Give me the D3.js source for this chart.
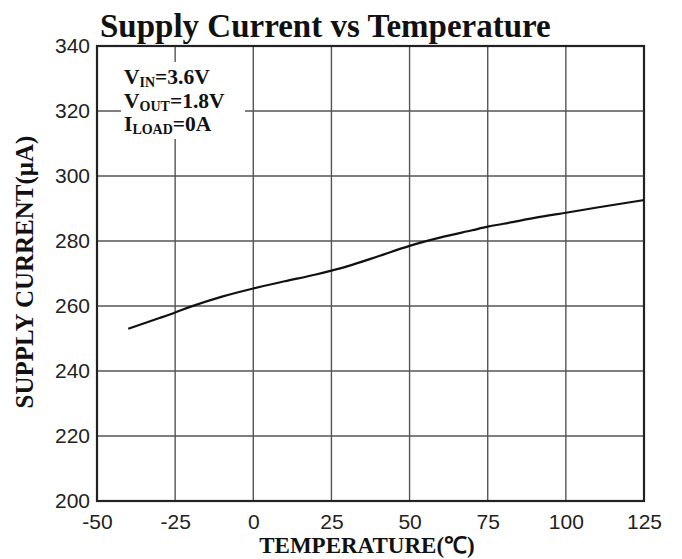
<!DOCTYPE html>
<html><head><meta charset="utf-8">
<script src="https://cdn.jsdelivr.net/npm/d3@7"></script>
<style>body{margin:0;background:#fff}svg{display:block}</style>
</head><body>
<script>
const temps = [-40,-30,-25,-20,-10,0,10,20,25,30,40,50,60,70,75,80,90,100,110,125];
const current = [253,256.3,258,259.8,262.9,265.4,267.6,269.7,270.9,272.2,275.3,278.5,281.1,283.3,284.4,285.3,287.1,288.7,290.3,292.6];
const xTicks = [-50,-25,0,25,50,75,100,125];
const yTicks = [200,220,240,260,280,300,320,340];

const W=682,H=559;
const m={l:97,r:38,t:46,b:58};
const svg=d3.select("body").append("svg").attr("width",W).attr("height",H);
const x=d3.scaleLinear().domain([-50,125]).range([m.l,W-m.r]);
const y=d3.scaleLinear().domain([200,340]).range([H-m.b,m.t]);
const serif="Liberation Serif, Times New Roman, serif";
const sans="Liberation Sans, Arial, sans-serif";

const g=svg.append("g");
g.selectAll(".vg").data(xTicks).join("line")
 .attr("x1",d=>x(d)).attr("x2",d=>x(d)).attr("y1",y(200)).attr("y2",y(340))
 .attr("stroke","#555").attr("stroke-width",1.4);
g.selectAll(".hg").data(yTicks).join("line")
 .attr("y1",d=>y(d)).attr("y2",d=>y(d)).attr("x1",x(-50)).attr("x2",x(125))
 .attr("stroke","#555").attr("stroke-width",1.4);

// annotation with white background
const ann=svg.append("g").attr("font-family",serif).attr("font-weight","bold").attr("fill","#111");
ann.append("rect").attr("x",x(-50)+24).attr("y",62).attr("width",124).attr("height",77).attr("fill","#fff");
function annLine(yy,main,sub,rest){
  const t=ann.append("text").attr("x",x(-50)+27).attr("y",yy).attr("font-size",21.5);
  t.append("tspan").text(main);
  t.append("tspan").attr("font-size",14).attr("dy",3).text(sub);
  t.append("tspan").attr("dy",-3).text(rest);
}
annLine(84,"V","IN","=3.6V");
annLine(108,"V","OUT","=1.8V");
annLine(131,"I","LOAD","=0A");

svg.append("rect").attr("x",x(-50)).attr("y",y(340)).attr("width",x(125)-x(-50)).attr("height",y(200)-y(340))
 .attr("fill","none").attr("stroke","#222").attr("stroke-width",2.2);

svg.append("path").datum(temps.map((t,i)=>[t,current[i]]))
 .attr("d",d3.line().x(d=>x(d[0])).y(d=>y(d[1])).curve(d3.curveMonotoneX))
 .attr("fill","none").attr("stroke","#111").attr("stroke-width",2.2);

const xa=svg.append("g").attr("transform",`translate(0,${y(200)})`)
 .call(d3.axisBottom(x).tickValues(xTicks).tickSize(0).tickPadding(13).tickFormat(d=>String(d)));
xa.select(".domain").remove();
xa.selectAll("text").attr("font-family",sans).attr("font-size",21).attr("fill","#222");

const ya=svg.append("g").attr("transform",`translate(${x(-50)},0)`)
 .call(d3.axisLeft(y).tickValues(yTicks).tickSize(0).tickPadding(7));
ya.select(".domain").remove();
ya.selectAll("text").attr("font-family",sans).attr("font-size",21).attr("fill","#222");

svg.append("text").attr("x",100).attr("y",37).attr("font-family",serif)
 .attr("font-weight","bold").attr("font-size",33).attr("fill","#111").text("Supply Current vs Temperature");

svg.append("text").attr("x",367).attr("y",553).attr("text-anchor","middle")
 .attr("font-family",serif).attr("font-weight","bold").attr("font-size",23).attr("fill","#111")
 .text("TEMPERATURE(℃)");

svg.append("text").attr("transform",`translate(33,272) rotate(-90)`).attr("text-anchor","middle")
 .attr("font-family",serif).attr("font-weight","bold").attr("font-size",25).attr("fill","#111")
 .text("SUPPLY CURRENT(μA)");
</script>
</body></html>
